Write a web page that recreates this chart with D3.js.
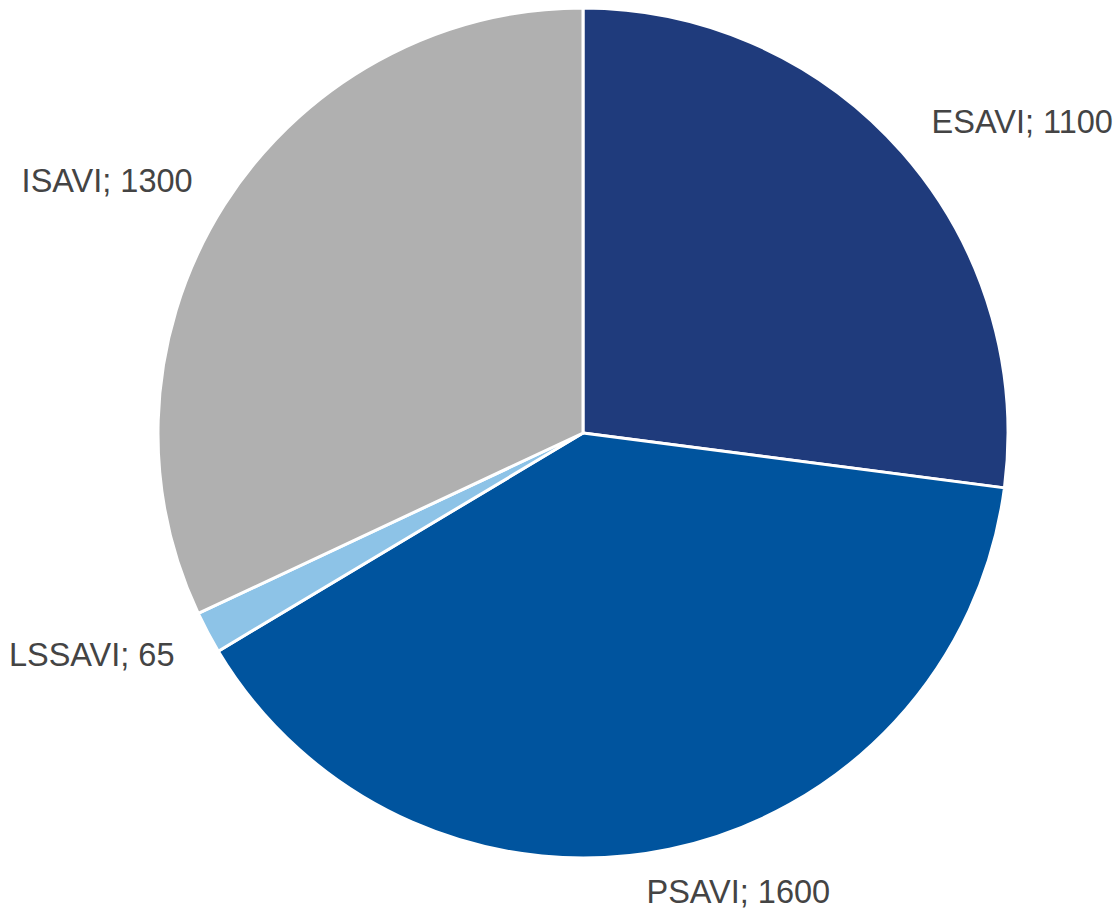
<!DOCTYPE html>
<html>
<head>
<meta charset="utf-8">
<script src="https://cdn.jsdelivr.net/npm/d3@7"></script>
<style>
  html, body { margin: 0; padding: 0; background: #fff; }
  text { font-family: "Liberation Sans", Arial, sans-serif; }
</style>
</head>
<body>
<div id="chart-area"></div>
<script>
// data
var categories = ["ESAVI", "PSAVI", "LSSAVI", "ISAVI"];
var values = [1100, 1600, 65, 1300];
var colors = ["#1f3b7c", "#00549e", "#8dc3e7", "#b0b0b0"];

var width = 1119, height = 909;
var cx = 583, cy = 433, radius = 425;

var data = categories.map(function (c, i) {
  return { name: c, value: values[i], color: colors[i] };
});

var svg = d3.select("#chart-area").append("svg")
  .attr("width", width)
  .attr("height", height);

var g = svg.append("g")
  .attr("transform", "translate(" + cx + "," + cy + ")");

var pie = d3.pie()
  .sort(null)
  .value(function (d) { return d.value; });

var arc = d3.arc()
  .innerRadius(0)
  .outerRadius(radius);

var arcs = pie(data);

// slices
g.selectAll("path.slice")
  .data(arcs)
  .enter().append("path")
  .attr("class", "slice")
  .attr("d", arc)
  .attr("fill", function (d) { return d.data.color; })
  .attr("stroke", "#fff")
  .attr("stroke-width", 3)
  .attr("stroke-linejoin", "round");

// labels, placed outside the slice along its mid angle
var fontSize = 32.5;
var labelR = radius + 15;
// small tweaks so labels sit where Excel puts them
var nudge = {
  ESAVI: [18, -2],
  PSAVI: [-26, 16],
  LSSAVI: [-20, 3],
  ISAVI: [-19, 3]
};

g.selectAll("text.label")
  .data(arcs)
  .enter().append("text")
  .attr("class", "label")
  .each(function (d) {
    var a = (d.startAngle + d.endAngle) / 2;
    var s = Math.sin(a), c = Math.cos(a);
    var x = s * labelR, y = -c * labelR;
    var anchor = s >= 0 ? "start" : "end";
    // top half: text sits above the point, bottom half: below it
    var base = c > 0 ? y - 8 : y + 23;
    var n = nudge[d.data.name] || [0, 0];
    d3.select(this)
      .attr("x", x + n[0])
      .attr("y", base + n[1])
      .attr("text-anchor", anchor);
  })
  .attr("font-size", fontSize)
  .attr("fill", "#444")
  .text(function (d) { return d.data.name + "; " + d.data.value; });
</script>
</body>
</html>
